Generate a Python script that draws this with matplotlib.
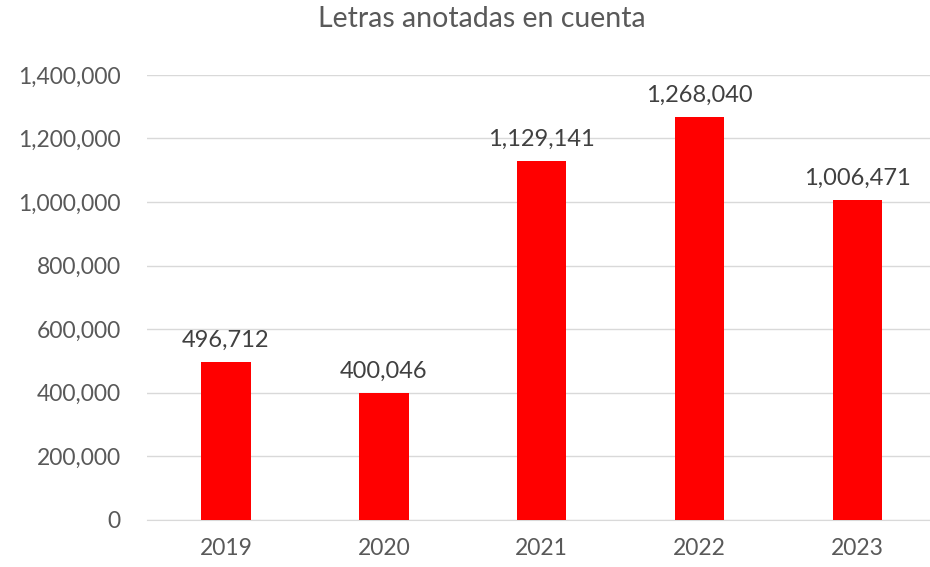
import matplotlib.pyplot as plt
from matplotlib.ticker import FuncFormatter

# Chart data
years = ['2019', '2020', '2021', '2022', '2023']
letras = [496712, 400046, 1129141, 1268040, 1006471]
y_ticks = [0, 200000, 400000, 600000, 800000, 1000000, 1200000, 1400000]

plt.rcParams['font.family'] = ['Lato', 'DejaVu Sans']

fig = plt.figure(figsize=(9.3, 5.67), dpi=100)
ax = fig.add_axes([0.158, 0.083, 0.849, 0.785])

x = range(len(years))
bars = ax.bar(x, letras, width=0.313, color='#ff0000', zorder=3)

# Data labels above each bar
for rect, val in zip(bars, letras):
    ax.annotate(f'{val:,}', (rect.get_x() + rect.get_width() / 2, val),
                xytext=(0, 8), textcoords='offset points',
                ha='center', va='bottom', fontsize=17, color='#404040')

ax.set_xlim(-0.5, len(years) - 0.5)
ax.set_ylim(0, 1400000)
ax.set_yticks(y_ticks)
ax.yaxis.set_major_formatter(FuncFormatter(lambda v, p: f'{int(v):,}'))
ax.set_xticks(list(x))
ax.set_xticklabels(years)

ax.grid(axis='y', color='#d9d9d9', linewidth=1, zorder=0)
for side in ['top', 'right', 'left']:
    ax.spines[side].set_visible(False)
ax.spines['bottom'].set_color('#d9d9d9')
ax.tick_params(axis='both', length=0, labelsize=16.5, colors='#595959')
ax.tick_params(axis='y', pad=19)
ax.tick_params(axis='x', pad=13)

fig.suptitle('Letras anotadas en cuenta', x=0.518, y=0.99, fontsize=20.5, color='#595959')

fig.savefig('out.png', dpi=100)
